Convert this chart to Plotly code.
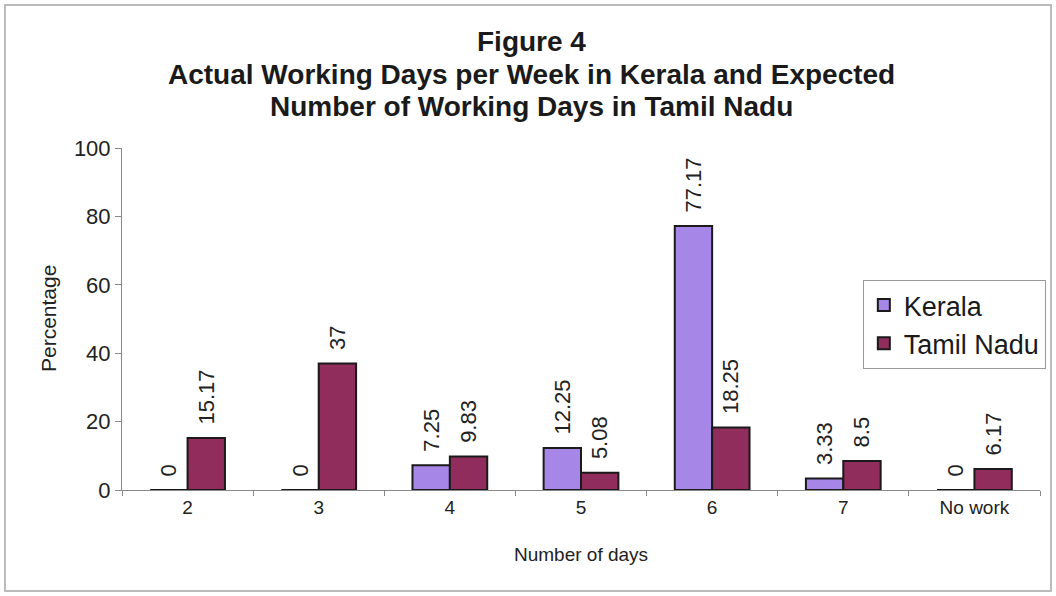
import plotly.graph_objects as go

categories = ["2", "3", "4", "5", "6", "7", "No work"]
kerala = [0, 0, 7.25, 12.25, 77.17, 3.33, 0]
tamil_nadu = [15.17, 37, 9.83, 5.08, 18.25, 8.5, 6.17]
kerala_labels = ["0", "0", "7.25", "12.25", "77.17", "3.33", "0"]
tn_labels = ["15.17", "37", "9.83", "5.08", "18.25", "8.5", "6.17"]
title_lines = [
    "Figure 4",
    "Actual Working Days per Week in Kerala and Expected",
    "Number of Working Days in Tamil Nadu",
]

font_family = "Liberation Sans, Arial, sans-serif"
text_color = "#222222"
label_template = "\u00a0\u2009%{text}"

fig = go.Figure()
fig.add_trace(go.Bar(
    name="Kerala", x=categories, y=kerala, text=kerala_labels,
    texttemplate=label_template,
    textposition="outside", textangle=-90, cliponaxis=False, constraintext="none",
    textfont=dict(size=22, color=text_color, family=font_family),
    marker=dict(color="#A687E8", line=dict(color="#1a1a1a", width=2)),
))
fig.add_trace(go.Bar(
    name="Tamil Nadu", x=categories, y=tamil_nadu, text=tn_labels,
    texttemplate=label_template,
    textposition="outside", textangle=-90, cliponaxis=False, constraintext="none",
    textfont=dict(size=22, color=text_color, family=font_family),
    marker=dict(color="#912D5C", line=dict(color="#1a1a1a", width=2)),
))

title_y = [1.310, 1.2135, 1.1228]
annotations = [
    dict(text="<b>%s</b>" % line, xref="paper", yref="paper", x=0.446, y=yy,
         xanchor="center", yanchor="middle", showarrow=False,
         font=dict(size=28, color="#1a1a1a", family=font_family))
    for line, yy in zip(title_lines, title_y)
]
annotations += [
    dict(text="Number of days", xref="paper", yref="paper", x=0.5, y=-0.19,
         xanchor="center", yanchor="middle", showarrow=False,
         font=dict(size=19, color=text_color)),
    dict(text="Percentage", xref="paper", yref="paper", x=-0.0806, y=0.5,
         xanchor="center", yanchor="middle", showarrow=False, textangle=-90,
         font=dict(size=21, color=text_color)),
]

fig.update_layout(
    width=1056, height=596,
    barmode="group", bargap=0.43, bargroupgap=0,
    plot_bgcolor="white", paper_bgcolor="white",
    margin=dict(l=122, r=16, t=148, b=106, autoexpand=False),
    font=dict(family=font_family, color=text_color),
    legend=dict(
        x=0.807, y=0.614, xanchor="left", yanchor="top",
        bgcolor="white", bordercolor="#999999", borderwidth=1,
        font=dict(size=27, color="#1a1a1a"),
        itemsizing="constant",
    ),
    xaxis=dict(
        automargin=False,
        tickfont=dict(size=19), showline=True, linecolor="#888888",
        ticks="outside", tickson="boundaries", ticklen=5, tickcolor="#888888",
        showgrid=False,
    ),
    yaxis=dict(
        automargin=False,
        range=[0, 100], dtick=20, tickfont=dict(size=22),
        showline=True, linecolor="#888888", ticks="outside", ticklen=6,
        tickcolor="#888888", showgrid=False, zeroline=False,
    ),
    annotations=annotations,
    shapes=[dict(type="rect", xref="paper", yref="paper", x0=-0.1275, x1=1.012,
                 y0=-0.295, y1=1.418, line=dict(color="#bbbbbb", width=2))],
)

fig.write_html("out.html", post_script="document.body.style.margin='0';",
               config={"displayModeBar": False})
